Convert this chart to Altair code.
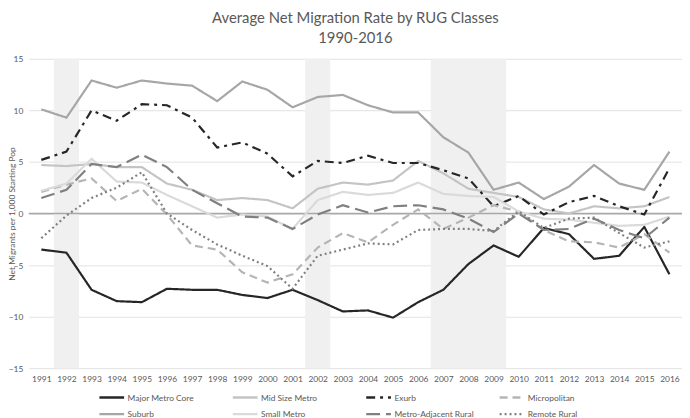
import altair as alt
import pandas as pd

years = list(range(1991, 2017))
series_names = ["Major Metro Core", "Mid Size Metro", "Exurb", "Micropolitan",
                "Suburb", "Small Metro", "Metro-Adjacent Rural", "Remote Rural"]

major_metro_core = [-3.5, -3.8, -7.4, -8.5, -8.6, -7.3, -7.4, -7.4, -7.9, -8.2, -7.4, -8.4, -9.5,
                    -9.4, -10.1, -8.6, -7.4, -4.9, -3.1, -4.2, -1.4, -2.0, -4.4, -4.1, -1.3, -5.9]
mid_size_metro = [4.7, 4.6, 4.8, 4.5, 4.5, 2.9, 2.3, 1.3, 1.5, 1.3, 0.5, 2.4, 3.0,
                  2.8, 3.2, 5.1, 3.9, 2.4, 2.0, 1.6, 0.4, 0.0, 0.7, 0.5, 0.7, 1.6]
exurb = [5.2, 6.0, 10.0, 9.0, 10.6, 10.5, 9.3, 6.4, 6.9, 5.8, 3.6, 5.1, 4.9,
         5.6, 4.9, 4.9, 4.2, 3.4, 0.7, 1.7, -0.1, 1.1, 1.7, 0.7, -0.1, 4.4]
micropolitan = [2.1, 2.8, 3.4, 1.2, 2.4, -0.1, -3.1, -3.5, -5.7, -6.7, -5.9, -3.3, -1.9,
                -2.8, -1.1, 0.4, -1.5, -0.4, 0.8, 0.2, -1.6, -2.7, -2.8, -3.3, -2.0, -3.8]
suburb = [10.1, 9.3, 12.9, 12.2, 12.9, 12.6, 12.4, 10.9, 12.8, 12.0, 10.3, 11.3, 11.5,
          10.5, 9.8, 9.8, 7.4, 5.9, 2.3, 3.0, 1.4, 2.6, 4.7, 2.9, 2.3, 6.0]
small_metro = [2.2, 2.9, 5.3, 3.1, 3.0, 1.8, 0.7, -0.4, -0.1, -0.3, -1.5, 1.3, 2.1,
               1.8, 2.0, 3.0, 1.9, 1.7, 1.6, 0.2, -0.5, -0.6, -0.9, -1.2, -1.1, -0.3]
metro_adjacent_rural = [1.5, 2.3, 4.8, 4.5, 5.7, 4.5, 2.3, 1.0, -0.3, -0.4, -1.5, -0.1, 0.8,
                        0.1, 0.7, 0.8, 0.4, -0.5, -1.8, 0.0, -1.6, -1.5, -0.5, -1.6, -2.4, -0.4]
remote_rural = [-2.4, -0.2, 1.5, 2.5, 4.0, 0.0, -1.6, -3.0, -4.1, -5.1, -7.3, -4.1, -3.5,
                -2.9, -3.0, -1.6, -1.5, -1.5, -1.7, 0.2, -1.4, -0.5, -0.4, -1.9, -3.3, -2.7]

recession_start = [1991.5, 2001.5, 2006.5]
recession_end = [1992.5, 2002.5, 2009.5]
y_ticks = [-15, -10, -5, 0, 5, 10, 15]

series_values = [major_metro_core, mid_size_metro, exurb, micropolitan,
                 suburb, small_metro, metro_adjacent_rural, remote_rural]
series_colors = ["#262626", "#c4c4c4", "#262626", "#b5b5b5",
                 "#a6a6a6", "#dadada", "#808080", "#808080"]
series_dashes = [[1, 0], [1, 0], [9, 5, 3, 5], [8, 5],
                 [1, 0], [1, 0], [14, 6], [2, 3]]

rows = []
for name, vals in zip(series_names, series_values):
    for yr, v in zip(years, vals):
        rows.append({"year": yr, "series": name, "value": v})
df = pd.DataFrame(rows)
bands = pd.DataFrame({"start": recession_start, "end": recession_end})
zero = pd.DataFrame({"v": [0]})

FONT = "Lato"
TXT = "#595959"

x_scale = alt.Scale(domain=[1990.5, 2016.5], nice=False, zero=False)
y_scale = alt.Scale(domain=[-15, 15], nice=False)

x_axis = alt.Axis(values=years, format="d", title=None, grid=False, ticks=False,
                  domain=False, labelAngle=0, labelFontSize=8.5, labelColor=TXT,
                  labelFont=FONT, labelPadding=7, labelFlush=False, labelOverlap=False)
y_axis = alt.Axis(values=y_ticks, title="Net Migrants per 1,000 Starting Pop",
                  titleFontSize=8.5, titleFont=FONT, titleColor=TXT, titleFontWeight="normal",
                  titleX=-17, titleBaseline="middle",
                  grid=True, gridColor="#e2e2e2", ticks=False, domain=False,
                  labelFontSize=8.5, labelColor=TXT, labelFont=FONT, labelPadding=6)

band_layer = alt.Chart(bands).mark_rect(color="#f0f0f0").encode(
    x=alt.X("start:Q", scale=x_scale, axis=x_axis),
    x2="end:Q",
    y=alt.value(0),
    y2=alt.value(313),
)

zero_layer = alt.Chart(zero).mark_rule(color="#a8a8a8", strokeWidth=1.5).encode(
    y=alt.Y("v:Q", scale=y_scale, axis=y_axis)
)

lines = alt.Chart(df).mark_line(strokeWidth=2.2).encode(
    x=alt.X("year:Q", scale=x_scale, axis=x_axis),
    y=alt.Y("value:Q", scale=y_scale, axis=y_axis),
    color=alt.Color("series:N", scale=alt.Scale(domain=series_names, range=series_colors),
                    legend=alt.Legend(title=None, orient="none", legendX=70, legendY=336,
                                      direction="horizontal",
                                      columns=4, symbolType="M-1,0L4,0", symbolStrokeWidth=2.5,
                                      symbolSize=100, labelFontSize=8.5, labelColor=TXT,
                                      labelFont=FONT, columnPadding=20, rowPadding=5,
                                      gridAlign="all", padding=0, labelOffset=17)),
    strokeDash=alt.StrokeDash("series:N", scale=alt.Scale(domain=series_names, range=series_dashes),
                              legend=None),
    order=alt.Order("year:Q"),
)

chart = alt.layer(band_layer, zero_layer, lines).properties(
    width=661,
    height=313,
    padding={"left": 21, "top": 49, "right": 0, "bottom": 48},
    autosize=alt.AutoSizeParams(type="none"),
    title=alt.Title(["Average Net Migration Rate by RUG Classes", "1990-2016"],
                    fontSize=15, font=FONT, color=TXT, fontWeight="normal",
                    lineHeight=20, offset=9, frame="group", anchor="middle"),
).configure_view(stroke=None)

chart.save("out.html", embed_options={"renderer": "svg", "actions": False})
